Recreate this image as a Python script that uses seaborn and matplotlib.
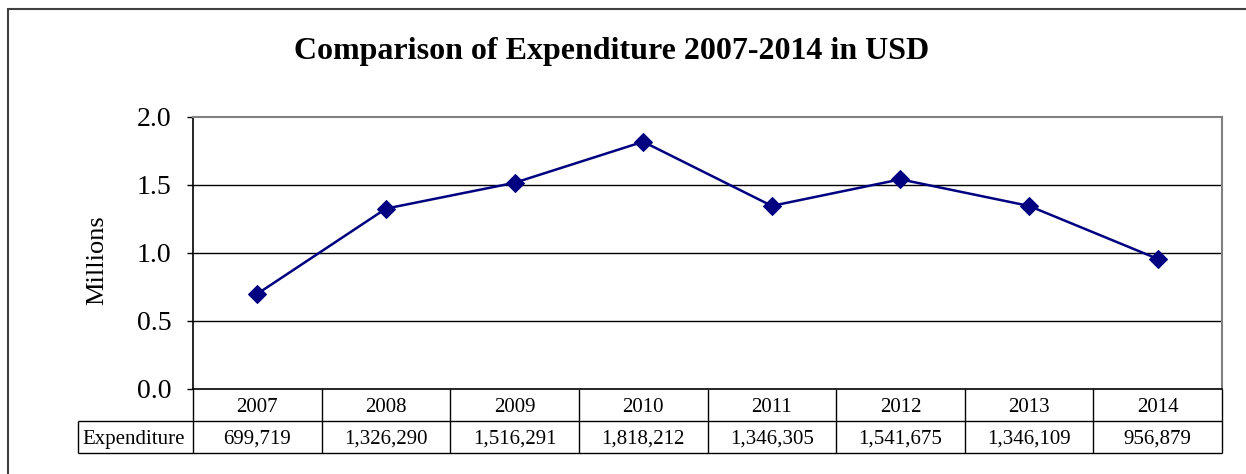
import numpy as np
import pandas as pd
import matplotlib
matplotlib.use("Agg")
import matplotlib.pyplot as plt
import seaborn as sns
from matplotlib.patches import Rectangle

years = ["2007", "2008", "2009", "2010", "2011", "2012", "2013", "2014"]
expenditure = [699719, 1326290, 1516291, 1818212, 1346305, 1541675, 1346109, 956879]
yticks = [0.0, 0.5, 1.0, 1.5, 2.0]

sns.set_style("white")
plt.rcParams["font.family"] = ["Liberation Serif", "DejaVu Serif"]
plt.rcParams["text.color"] = "black"
plt.rcParams["axes.labelcolor"] = "black"
plt.rcParams["ytick.color"] = "black"

df = pd.DataFrame({"pos": np.arange(len(years)),
                   "millions": np.array(expenditure) / 1e6})

W, H = 1246, 474
fig = plt.figure(figsize=(W / 100, H / 100), dpi=100)
L, R, T, B = 193, 1222, 117, 389
axw, axh = R - L, B - T
ax = fig.add_axes([L / W, 1 - B / H, axw / W, axh / H])

navy = "#000080"
sns.lineplot(data=df, x="pos", y="millions", ax=ax, color=navy, lw=1.8,
             marker="D", markersize=9, markeredgecolor=navy, markerfacecolor=navy,
             zorder=5)

ax.set_xlim(-0.5, len(years) - 0.5)
ax.set_ylim(0, 2.0)
ax.set_yticks(yticks)
ax.set_yticklabels([f"{v:.1f}" for v in yticks], fontsize=20)
ax.set_xticks([])
ax.set_xlabel("")
ax.set_ylabel("Millions", fontsize=19)
ax.yaxis.set_label_coords((108 - L) / axw, (B - 260) / axh)
for v in yticks[1:-1]:
    ax.axhline(v, color="black", lw=1, zorder=0)
ax.tick_params(axis="y", which="both", left=True, direction="out", length=4.5,
               width=1, color="black", pad=11)
for s in ["top", "right"]:
    ax.spines[s].set_color("#808080")
    ax.spines[s].set_linewidth(1.5)
for s in ["left", "bottom"]:
    ax.spines[s].set_color("black")
    ax.spines[s].set_linewidth(1.2)

fig.text(612 / W, 1 - 52 / H, "Comparison of Expenditure 2007-2014 in USD",
         fontsize=23, fontweight="bold", ha="center", va="center")

# data table drawn below the axis
tx0 = 78
row_h = 32
y_mid = -row_h / axh
y_bot = -2 * row_h / axh
x_lab = (tx0 - L) / axw
xtr = ax.get_xaxis_transform()
edges = np.arange(len(years) + 1) - 0.5
ax.vlines(edges, y_bot, 0, transform=xtr, colors="black", lw=1, clip_on=False)
ax.vlines([x_lab], y_bot, y_mid, transform=ax.transAxes, colors="black", lw=1, clip_on=False)
ax.hlines([y_mid, y_bot], x_lab, 1, transform=ax.transAxes, colors="black", lw=1, clip_on=False)
for i, (yr, v) in enumerate(zip(years, expenditure)):
    ax.text(i, y_mid / 2, yr, transform=xtr, ha="center", va="center_baseline",
            fontsize=15, clip_on=False)
    ax.text(i, (y_mid + y_bot) / 2, f"{v:,}", transform=xtr, ha="center",
            va="center_baseline", fontsize=15, clip_on=False)
ax.text((tx0 + 4 - L) / axw, (y_mid + y_bot) / 2, "Expenditure", transform=ax.transAxes,
        ha="left", va="center_baseline", fontsize=15, clip_on=False)

# outer chart border
fig.patches.append(Rectangle((8 / W, -0.05), 1.1, 1 - 9 / H + 0.05,
                             transform=fig.transFigure, fill=False,
                             edgecolor="#404040", lw=1.5, zorder=-1))

fig.savefig("out.png", dpi=100)
